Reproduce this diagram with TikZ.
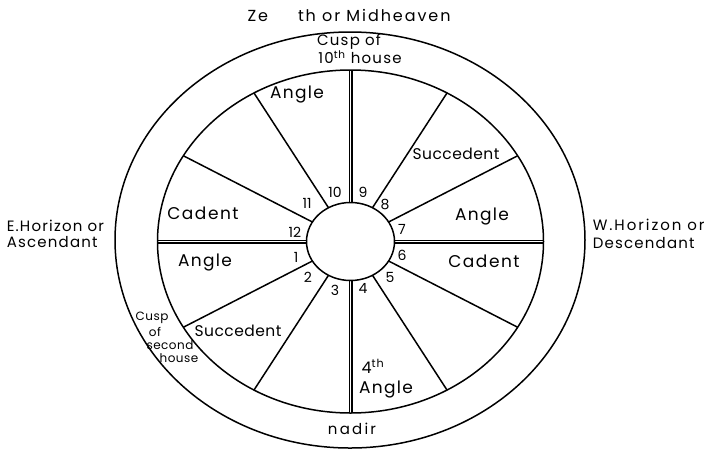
\documentclass[tikz,border=0pt]{standalone}
\usepackage{fontspec}
\setmainfont{Poppins}
\usetikzlibrary{calc}
\newcommand{\fsz}[2]{\fontsize{#1}{#1}\selectfont\addfontfeature{LetterSpace=#2}}
\begin{document}
\begin{tikzpicture}[x=1pt,y=-1pt, line width=1.5pt,
  lbl/.style={font=\fsz{17}{9}, inner sep=0pt},
  sm/.style={font=\fsz{15}{8}, inner sep=0pt},
  tiny/.style={font=\fsz{12}{4}, inner sep=0pt},
  num/.style={font=\fsz{14}{0}, inner sep=0pt},
  dbl/.style={double, double distance=1.8pt, line width=1.1pt}]
\useasboundingbox (0,0) rectangle (707,451);
\fill[white] (0,0) rectangle (707,451);
\coordinate (O) at (350,240);
\coordinate (C) at (350.5,241.5);
% double lines (cardinal cusps)
\foreach \a in {0,90,180,270}
  \draw[dbl] ($(C)+(\a:44pt and 39pt)$) -- ($(C)+(\a:193pt and 171.5pt)$);
% spokes
\foreach \a in {30,60,120,150,210,240,300,330}
  \draw ($(C)+(\a:44pt and 39pt)$) -- ($(C)+(\a:193pt and 171.5pt)$);
% ellipses
\draw (O) ellipse [x radius=235pt, y radius=208pt];
\draw (C) ellipse [x radius=193pt, y radius=171.5pt];
\draw[fill=white] (C) ellipse [x radius=44pt, y radius=39pt];
% outer labels
\node[font=\fsz{16}{12}, inner sep=0pt] (zen) at (349,15) {Ze\hspace{30pt}th or Midheaven};
\node[sm] (cusp10a) at (349,42) {Cusp of};
\node[sm] (cusp10b) at (360,57) {10\textsuperscript{th} house};
\node[sm, anchor=west] (e1) at (6,226) {E.Horizon or};
\node[sm, anchor=west] (e2) at (6,242) {Ascendant};
\node[font=\fsz{15}{13}, inner sep=0pt, anchor=west] (w1) at (592,225) {W.Horizon or};
\node[sm, anchor=west] (w2) at (592,243) {Descendant};
\node[tiny] (c2a) at (152,318) {Cusp};
\node[tiny] (c2b) at (155,332) {of};
\node[tiny] (c2c) at (170,345) {second};
\node[tiny] (c2d) at (179,358) {house};
\node[font=\fsz{15}{15}, inner sep=0pt] (nadir) at (352,429) {nadir};
% house labels
\node[font=\fsz{17}{8}, inner sep=0pt] (angT) at (297,94) {Angle};
\node[font=\fsz{15.5}{3}, inner sep=0pt] (sucT) at (456,154) {Succedent};
\node[lbl] (cadL) at (203,213) {Cadent};
\node[font=\fsz{17}{8}, inner sep=0pt] (angR) at (482,216) {Angle};
\node[font=\fsz{17}{8}, inner sep=0pt] (angL) at (205,262) {Angle};
\node[lbl] (cadR) at (484,261) {Cadent};
\node[font=\fsz{15.5}{3}, inner sep=0pt] (sucB) at (238,331) {Succedent};
\node[font=\fsz{16}{8}, inner sep=0pt] (four) at (373,366) {4\textsuperscript{th}};
\node[font=\fsz{17}{8}, inner sep=0pt] (angB) at (386,389) {Angle};
% house numbers
\node[num] (n10) at (335,192) {10};
\node[num] (n9) at (363,192) {9};
\node[num] (n11) at (307,203) {11};
\node[num] (n8) at (385,204) {8};
\node[num] (n12) at (295,232) {12};
\node[num] (n7) at (402,229) {7};
\node[num] (n1) at (296,257) {1};
\node[num] (n6) at (402,255) {6};
\node[num] (n2) at (308,277) {2};
\node[num] (n5) at (390,277) {5};
\node[num] (n3) at (335,290) {3};
\node[num] (n4) at (363,288) {4};
\end{tikzpicture}
\end{document}
